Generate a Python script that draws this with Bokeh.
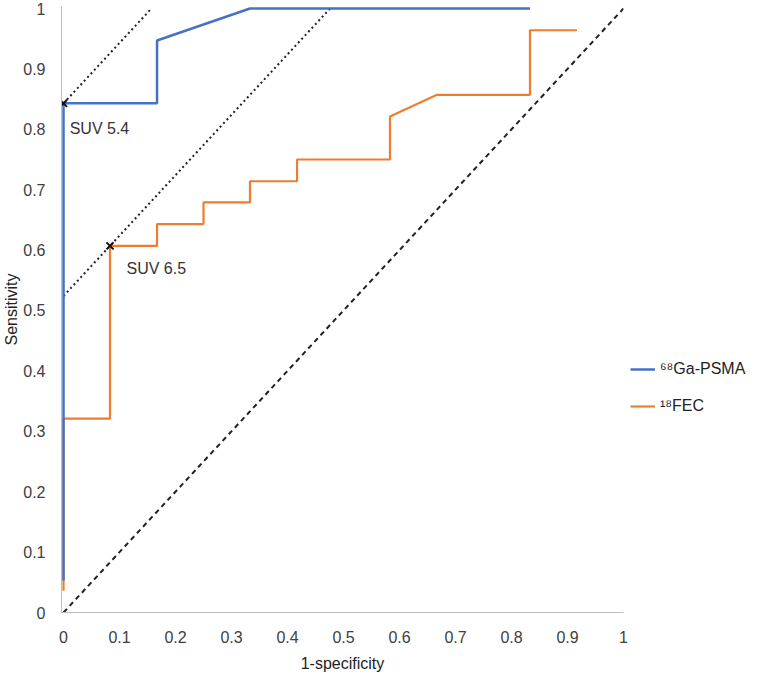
from bokeh.plotting import figure
from bokeh.models import Legend, LegendItem, FixedTicker, Label
from bokeh.embed import file_html
from bokeh.resources import INLINE

# ---- data ----
psma_x = [0, 0, 0.167, 0.167, 0.333, 0.833]
psma_y = [0.053, 0.843, 0.843, 0.947, 1.0, 1.0]

fec_x = [0, 0, 0.083, 0.083, 0.167, 0.167, 0.25, 0.25, 0.333, 0.333, 0.417, 0.417,
         0.583, 0.583, 0.667, 0.833, 0.833, 0.917]
fec_y = [0.036, 0.321, 0.321, 0.607, 0.607, 0.643, 0.643, 0.679, 0.679, 0.714, 0.714, 0.75,
         0.75, 0.821, 0.857, 0.857, 0.964, 0.964]

chance_x = [0, 1]
chance_y = [0, 1]

tangent1_x = [0, 0.157]
tangent1_y = [0.843, 1.0]
tangent2_x = [0, 0.476]
tangent2_y = [0.524, 1.0]

cut_x = [0, 0.083]
cut_y = [0.843, 0.607]
cut_labels = ["SUV 5.4", "SUV 6.5"]
label_x = [0.011, 0.1125]
label_y = [0.801, 0.569]

ticks = [0, 0.1, 0.2, 0.3, 0.4, 0.5, 0.6, 0.7, 0.8, 0.9, 1]
tick_labels = ["0", "0.1", "0.2", "0.3", "0.4", "0.5", "0.6", "0.7", "0.8", "0.9", "1"]

FONT = "Liberation Sans"
TXT = "#404040"

p = figure(frame_width=562, frame_height=606, x_range=(-0.0036, 1), y_range=(0, 1.0033),
           output_backend="svg", toolbar_location=None,
           min_border_left=60, min_border_top=6, min_border_bottom=58, min_border_right=140)
p.outline_line_color = None
p.xgrid.visible = False
p.ygrid.visible = False
p.background_fill_color = "white"

for ax in (p.xaxis[0], p.yaxis[0]):
    ax.ticker = FixedTicker(ticks=ticks)
    ax.major_label_overrides = {t: l for t, l in zip(ticks, tick_labels)}
    ax.major_tick_line_color = None
    ax.minor_tick_line_color = None
    ax.axis_line_color = "#bfbfbf"
    ax.axis_line_width = 1
    ax.major_label_text_font = FONT
    ax.major_label_text_font_size = "16px"
    ax.major_label_text_color = TXT
    ax.axis_label_text_font = FONT
    ax.axis_label_text_font_size = "16px"
    ax.axis_label_text_font_style = "normal"
    ax.axis_label_text_color = "#222222"

p.xaxis.axis_label = "1-specificity"
p.yaxis.axis_label = "Sensitivity"
p.xaxis.major_label_standoff = 12
p.xaxis.axis_label_standoff = 9
p.yaxis.major_label_standoff = 10
p.yaxis.axis_label_standoff = 0

p.line(chance_x, chance_y, line_color="#222222", line_width=2, line_dash="5 4")
p.line(tangent1_x, tangent1_y, line_color="#222222", line_width=2, line_dash="2 3")
p.line(tangent2_x, tangent2_y, line_color="#222222", line_width=2, line_dash="2 3")

r_fec = p.line(fec_x, fec_y, line_color="#ED7D31", line_width=2.2)
r_psma = p.line(psma_x, psma_y, line_color="#4472C4", line_width=2.5)

p.scatter(cut_x, cut_y, marker="x", size=10, line_color="#111111", line_width=2)

for t, x, y in zip(cut_labels, label_x, label_y):
    p.add_layout(Label(x=x, y=y, text=t, text_font=FONT, text_font_size="16px",
                       text_color="#333333", text_baseline="middle", text_align="left"))

legend = Legend(items=[LegendItem(label="\u2076\u2078Ga-PSMA", renderers=[r_psma]),
                       LegendItem(label="\u00b9\u2078FEC", renderers=[r_fec])],
                location=(7, 196))
legend.border_line_color = None
legend.background_fill_alpha = 0
legend.label_text_font = FONT
legend.label_text_font_size = "16px"
legend.label_text_color = "#222222"
legend.glyph_width = 25
legend.glyph_height = 20
legend.label_height = 20
legend.spacing = 17
legend.padding = 8
legend.margin = 0
legend.label_standoff = 5
p.add_layout(legend, "right")

open("out.html", "w").write(file_html(p, INLINE))
